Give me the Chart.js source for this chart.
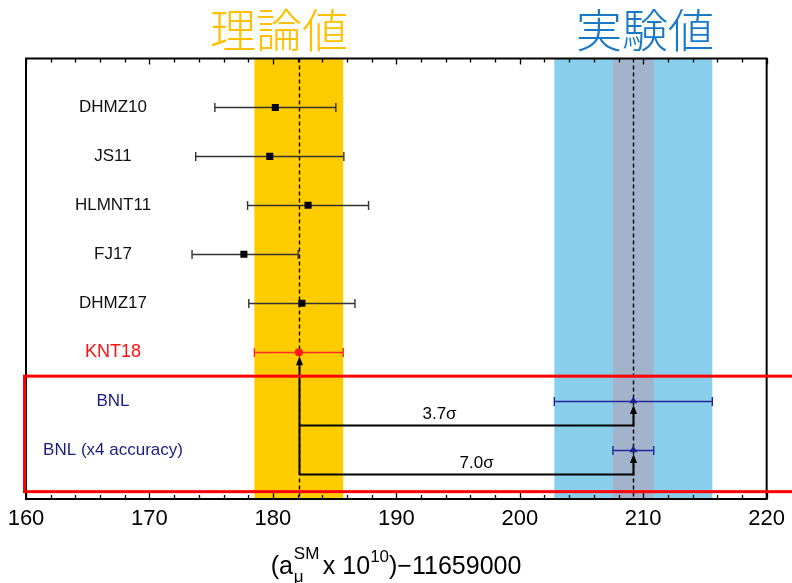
<!DOCTYPE html>
<html>
<head>
<meta charset="utf-8">
<script src="https://cdn.jsdelivr.net/npm/chart.js@4/dist/chart.umd.min.js"></script>
<style>
  html, body { margin: 0; padding: 0; background: #fff; }
  #wrap { position: relative; width: 792px; height: 583px; overflow: hidden; }
  #c { position: absolute; left: 0; top: 0; }
  #xtitle {
    position: absolute; left: 0; width: 792px; top: 546px;
    text-align: center; font-family: 'Liberation Sans', Arial, sans-serif;
    font-size: 25px; line-height: 28px; color: #000; white-space: nowrap;
  }
  #xtitle .st { display: inline-block; position: relative; width: 30px; height: 1em; }
  #xtitle .st .sp { position: absolute; left: 1px; top: -9px; font-size: 17px; }
  #xtitle .st .sb { position: absolute; left: 1px; top: 14px; font-size: 17px; }
  #xtitle sup { font-size: 17px; position: relative; top: -3px; }
</style>
</head>
<body>
<div id="wrap">
  <canvas id="c" width="792" height="583"></canvas>
  <div id="xtitle">(a<span class="st"><span class="sp">SM</span><span class="sb">μ</span></span>x 10<sup>10</sup>)−11659000</div>
</div>
<script>
// Determinations of the muon anomaly (a_mu x 1e10 − 11659000)
const labels   = ['DHMZ10', 'JS11', 'HLMNT11', 'FJ17', 'DHMZ17', 'KNT18', 'BNL', 'BNL (x4 accuracy)'];
const centers  = [180.2, 179.75, 182.85, 177.65, 182.35, 182.1, 209.2, 209.2];
const errLow   = [4.9, 6.0, 4.9, 4.2, 4.3, 3.6, 6.4, 1.65];
const errHigh  = [4.9, 6.0, 4.9, 4.4, 4.3, 3.6, 6.4, 1.65];
const groups   = ['theory', 'theory', 'theory', 'theory', 'theory', 'ref', 'exp', 'exp'];
const sigmaLabels = ['3.7σ', '7.0σ'];
const xTicks   = [160, 170, 180, 190, 200, 210, 220];
const headings = ['理論値', '実験値'];

const THEORY = 5, EXP = 6, EXP4 = 7;          // indices into the arrays above
const rowOf = i => i + 1;                       // rows 1..8 on a 0..9 axis

const colors = { theory: '#000000', ref: '#ff1a1a', exp: '#1f1f8f' };
const barColors = { theory: '#333333', ref: '#ff2a2a', exp: '#25259a' };
const labelColors = { theory: '#111111', ref: '#ff1010', exp: '#1b1b86' };

function pts(g) {
  return centers.map((c, i) => groups[i] === g ? { x: c, y: rowOf(i) } : null).filter(Boolean);
}

const deco = {
  id: 'deco',
  beforeDatasetsDraw(chart) {
    const { ctx, chartArea: a, scales: { x, y } } = chart;
    ctx.save();
    // shaded bands: theory (yellow), experiment (blue), improved experiment (grey-blue)
    const band = (i, color) => {
      const l = x.getPixelForValue(centers[i] - errLow[i]);
      const r = x.getPixelForValue(centers[i] + errHigh[i]);
      ctx.fillStyle = color;
      ctx.fillRect(l, a.top, r - l, a.bottom - a.top);
    };
    band(THEORY, '#ffcc00');
    band(EXP, '#89cfeb');
    band(EXP4, '#a1b4cb');

    // dashed central lines
    ctx.strokeStyle = '#000';
    ctx.lineWidth = 1.4;
    ctx.setLineDash([4, 3]);
    [THEORY, EXP].forEach(i => {
      const px = Math.round(x.getPixelForValue(centers[i])) + 0.5;
      ctx.beginPath(); ctx.moveTo(px, a.top); ctx.lineTo(px, a.bottom); ctx.stroke();
    });
    ctx.setLineDash([]);

    // tension arrows
    const xt = Math.round(x.getPixelForValue(centers[THEORY])) + 0.5;
    const xe = Math.round(x.getPixelForValue(centers[EXP])) + 0.5;
    const yA = y.getPixelForValue(7.5), yB = y.getPixelForValue(8.5);
    ctx.strokeStyle = '#000';
    ctx.lineWidth = 2;
    ctx.beginPath();
    ctx.moveTo(xt, yB); ctx.lineTo(xt, y.getPixelForValue(rowOf(THEORY)) + 10);
    ctx.moveTo(xt, yA); ctx.lineTo(xe, yA); ctx.lineTo(xe, y.getPixelForValue(rowOf(EXP)) + 10);
    ctx.moveTo(xt, yB); ctx.lineTo(xe, yB); ctx.lineTo(xe, y.getPixelForValue(rowOf(EXP4)) + 10);
    ctx.stroke();
    const head = (px, py) => {
      ctx.beginPath();
      ctx.moveTo(px, py + 4); ctx.lineTo(px - 3.5, py + 13); ctx.lineTo(px + 3.5, py + 13);
      ctx.closePath(); ctx.fillStyle = '#000'; ctx.fill();
    };
    head(xt, y.getPixelForValue(rowOf(THEORY)));
    head(xe, y.getPixelForValue(rowOf(EXP)));
    head(xe, y.getPixelForValue(rowOf(EXP4)));

    // sigma labels
    ctx.font = '17px "Liberation Sans", Arial, sans-serif';
    ctx.fillStyle = '#000';
    ctx.textAlign = 'center';
    ctx.textBaseline = 'middle';
    ctx.fillText(sigmaLabels[0], x.getPixelForValue(193.5), y.getPixelForValue(7.27));
    ctx.fillText(sigmaLabels[1], x.getPixelForValue(196.5), y.getPixelForValue(8.27));

    // horizontal error bars with end caps
    centers.forEach((c, i) => {
      const py = Math.round(y.getPixelForValue(rowOf(i))) + 0.5;
      const l = x.getPixelForValue(c - errLow[i]);
      const r = x.getPixelForValue(c + errHigh[i]);
      ctx.strokeStyle = barColors[groups[i]];
      ctx.lineWidth = 1.4;
      ctx.beginPath();
      ctx.moveTo(l, py); ctx.lineTo(r, py);
      ctx.moveTo(l, py - 4.5); ctx.lineTo(l, py + 4.5);
      ctx.moveTo(r, py - 4.5); ctx.lineTo(r, py + 4.5);
      ctx.stroke();
    });
    ctx.restore();
  },
  afterDraw(chart) {
    const { ctx, chartArea: a, scales: { x, y } } = chart;
    ctx.save();
    // frame
    ctx.strokeStyle = '#000';
    ctx.lineWidth = 2;
    ctx.strokeRect(a.left, a.top, a.right - a.left, a.bottom - a.top);
    // inward tick marks on top and bottom
    ctx.lineWidth = 1.3;
    ctx.beginPath();
    for (let v = xTicks[0]; v <= xTicks[xTicks.length - 1]; v += 2) {
      const px = Math.round(x.getPixelForValue(v)) + 0.5;
      const len = (v % 10 === 0) ? 6 : 4;
      ctx.moveTo(px, a.bottom); ctx.lineTo(px, a.bottom - len);
      ctx.moveTo(px, a.top); ctx.lineTo(px, a.top + len);
    }
    ctx.stroke();

    // row labels
    ctx.textAlign = 'center';
    ctx.textBaseline = 'middle';
    labels.forEach((t, i) => {
      ctx.font = (groups[i] === 'ref' ? '18px' : '17px') + ' "Liberation Sans", Arial, sans-serif';
      ctx.fillStyle = labelColors[groups[i]];
      ctx.fillText(t, a.left + 87, y.getPixelForValue(rowOf(i)));
    });

    // highlight box around the experimental rows
    ctx.strokeStyle = '#ff0000';
    ctx.lineWidth = 3;
    const top = y.getPixelForValue(6.49), bot = y.getPixelForValue(8.85);
    ctx.strokeRect(a.left - 1.5, top, chart.width + 20, bot - top);

    // group headings
    ctx.font = '300 46px "Noto Sans CJK JP", sans-serif';
    ctx.textBaseline = 'middle';
    ctx.fillStyle = '#ffc000';
    ctx.fillText(headings[0], 279, 30);
    ctx.fillStyle = '#1778c6';
    ctx.fillText(headings[1], 645, 30);
    ctx.restore();
  }
};

new Chart(document.getElementById('c'), {
  type: 'scatter',
  data: {
    datasets: [
      { data: pts('theory'), pointStyle: 'rect', pointRadius: 5, backgroundColor: colors.theory, borderColor: colors.theory, borderWidth: 0 },
      { data: pts('ref'), pointStyle: 'circle', pointRadius: 4, backgroundColor: colors.ref, borderColor: colors.ref, borderWidth: 0 },
      { data: pts('exp'), pointStyle: 'triangle', pointRadius: 4.5, backgroundColor: colors.exp, borderColor: colors.exp, borderWidth: 0 }
    ]
  },
  options: {
    responsive: false,
    animation: false,
    events: [],
    layout: { padding: { left: 26, right: 23.7, top: 58.5, bottom: 0 } },
    plugins: { legend: { display: false }, tooltip: { enabled: false } },
    scales: {
      x: {
        type: 'linear', min: xTicks[0], max: xTicks[xTicks.length - 1],
        afterBuildTicks: s => { s.ticks = xTicks.map(v => ({ value: v })); },
        afterFit: s => { s.height = 84; },
        grid: { display: false, drawTicks: false },
        border: { display: false },
        ticks: { color: '#000', padding: 7, font: { family: '"Liberation Sans", Arial, sans-serif', size: 22 } }
      },
      y: { type: 'linear', min: 0, max: 9, reverse: true, display: false }
    }
  },
  plugins: [deco]
});
</script>
</body>
</html>
